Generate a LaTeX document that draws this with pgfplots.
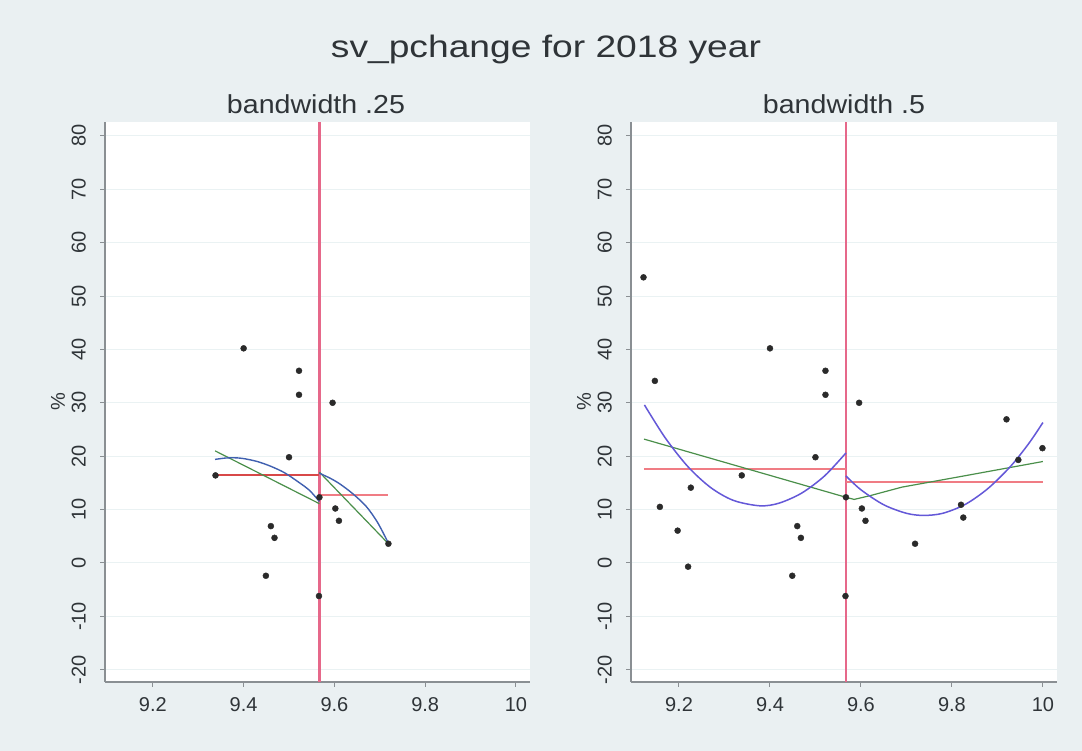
\documentclass[border=0pt]{standalone}
\usepackage{fontspec}
\setmainfont{Liberation Sans}
\usepackage{graphicx}
\usepackage{pgfplots}
\usepackage{pgfplotstable}
\pgfplotsset{compat=1.18}

\definecolor{bgc}{HTML}{EAF0F2}
\definecolor{gridc}{HTML}{EAF2F3}
\definecolor{axc}{HTML}{8A8F93}
\definecolor{txtc}{HTML}{2F3438}
\definecolor{vlinec}{HTML}{E6688A}
\definecolor{redA}{HTML}{D84848}
\definecolor{redB}{HTML}{F07C84}
\definecolor{greenc}{HTML}{4A8F4A}
\definecolor{blueA}{HTML}{4060B0}
\definecolor{blueB}{HTML}{6458D8}
\definecolor{dotc}{HTML}{2A2A2A}

\pgfplotstableread{
x y
9.338 16.4
9.400 40.2
9.449 -2.4
9.460 6.9
9.468 4.7
9.500 19.8
9.522 36.0
9.522 31.5
9.566 -6.2
9.567 12.3
9.596 30.0
9.602 10.2
9.610 7.9
9.719 3.6
}\ptsL

\pgfplotstableread{
x y
9.122 53.5
9.147 34.1
9.158 10.5
9.197 6.05
9.220 -0.7
9.226 14.1
9.338 16.4
9.400 40.2
9.449 -2.4
9.460 6.9
9.468 4.7
9.500 19.8
9.522 36.0
9.522 31.5
9.566 -6.2
9.567 12.3
9.596 30.0
9.602 10.2
9.610 7.9
9.719 3.6
9.820 10.9
9.825 8.5
9.920 26.9
9.946 19.3
9.999 21.5
}\ptsR

\pgfplotsset{
  statapanel/.style={
    scale only axis, anchor=south west,
    width=425pt, height=560pt,
    xmin=9.0945, xmax=10.031, ymin=-22.3, ymax=82.6,
    axis x line*=bottom, axis y line*=left,
    axis line style={draw=axc, line width=1.3pt, -},
    axis background/.style={fill=white},
    xtick={9.2,9.4,9.6,9.8,10}, xticklabels={9.2,9.4,9.6,9.8,10},
    ytick={-20,-10,0,10,20,30,40,50,60,70,80},
    yticklabels={-20,-10,0,10,20,30,40,50,60,70,80},
    ymajorgrids, grid style={draw=gridc, line width=1pt},
    tick align=outside, major tick length=5pt,
    tick style={draw=axc, line width=1pt},
    xticklabel style={font=\fontsize{20pt}{24pt}\selectfont, text=txtc, anchor=north, inner sep=0pt, yshift=-10pt},
    yticklabel style={font=\fontsize{20pt}{24pt}\selectfont, text=txtc, rotate=90, anchor=south, inner sep=0pt, yshift=14pt},
    ylabel={\%},
    ylabel style={font=\fontsize{20pt}{24pt}\selectfont, text=txtc, at={(rel axis cs:0,0.5)}, anchor=center, yshift=47pt},
    clip=false,
  },
  vl/.style={color=vlinec, line width=2.2pt},
  dots/.style={only marks, mark=*, mark size=3pt, mark options={fill=dotc, draw=dotc}},
}

\begin{document}
\begin{tikzpicture}
\path[use as bounding box] (0,0) rectangle (1082pt,751pt);
\fill[bgc] (0,0) rectangle (1082pt,751pt);

\node[text=txtc, anchor=base] at (546pt,693pt) {\scalebox{1.2}[1]{\fontsize{31pt}{36pt}\selectfont sv\_pchange for 2018 year}};
\node[text=txtc, anchor=base] at (316pt,637pt) {\scalebox{1.1}[1]{\fontsize{26pt}{30pt}\selectfont bandwidth .25}};
\node[text=txtc, anchor=base] at (844pt,637pt) {\scalebox{1.1}[1]{\fontsize{26pt}{30pt}\selectfont bandwidth .5}};

% ---------- left panel: bandwidth .25
\begin{axis}[statapanel, at={(105pt,69pt)}]
\addplot[vl] coordinates {(9.567,-22.3) (9.567,82.6)};
\addplot[color=redA, line width=1.8pt] coordinates {(9.338,16.4) (9.567,16.4)};
\addplot[color=redB, line width=2pt] coordinates {(9.567,12.8) (9.719,12.8)};
\addplot[color=greenc, line width=1.2pt] coordinates {(9.337,21.0) (9.567,11.1)};
\addplot[color=greenc, line width=1.2pt] coordinates {(9.567,17.0) (9.719,3.6)};
\addplot[color=blueA, line width=1.4pt, smooth] coordinates {
 (9.337,19.4) (9.36,19.65) (9.38,19.7) (9.40,19.55) (9.43,19.0) (9.46,18.1)
 (9.49,16.9) (9.52,15.2) (9.545,13.6) (9.567,11.5)};
\addplot[color=blueA, line width=1.4pt, smooth] coordinates {
 (9.567,16.8) (9.59,15.9) (9.612,14.8) (9.64,13.0) (9.67,10.6) (9.695,7.6) (9.719,3.7)};
\addplot[dots] table[x=x,y=y] {\ptsL};
\end{axis}

% ---------- right panel: bandwidth .5
\begin{axis}[statapanel, at={(631pt,69pt)}, width=426pt]
\addplot[vl] coordinates {(9.567,-22.3) (9.567,82.6)};
\addplot[color=redB, line width=2pt] coordinates {(9.123,17.6) (9.567,17.6)};
\addplot[color=redB, line width=2pt] coordinates {(9.567,15.2) (10.0,15.2)};
\addplot[color=greenc, line width=1.2pt] coordinates {(9.123,23.2) (9.567,12.3)};
\addplot[color=greenc, line width=1.2pt] coordinates {(9.567,12.3) (9.585,11.9) (9.62,12.6) (9.69,14.2) (9.82,16.2) (10.0,19.0)};
\addplot[color=blueB, line width=1.5pt, smooth] coordinates {
 (9.124,29.6) (9.17,23.4) (9.22,18.0) (9.27,14.1) (9.32,11.7) (9.378,10.7)
 (9.42,11.2) (9.47,13.1) (9.52,16.3) (9.567,20.6)};
\addplot[color=blueB, line width=1.5pt, smooth] coordinates {
 (9.567,16.3) (9.60,13.7) (9.65,10.9) (9.70,9.3) (9.738,8.9) (9.78,9.3)
 (9.83,11.0) (9.88,14.0) (9.93,18.2) (9.97,22.5) (10.0,26.3)};
\addplot[dots] table[x=x,y=y] {\ptsR};
\end{axis}
\end{tikzpicture}
\end{document}
